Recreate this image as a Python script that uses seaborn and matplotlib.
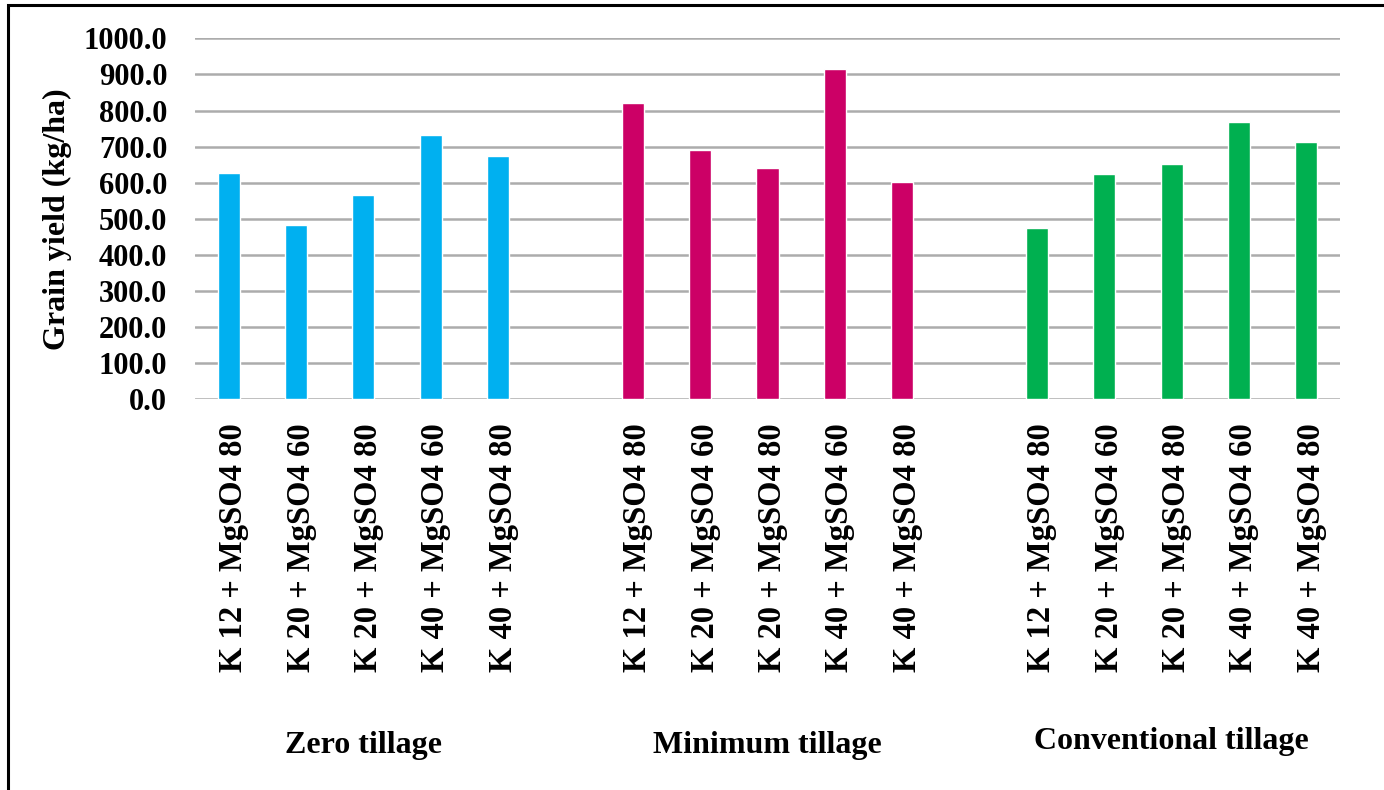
import matplotlib
matplotlib.use("Agg")
import matplotlib.pyplot as plt
import matplotlib.transforms as mtransforms
from matplotlib.patches import Rectangle
import numpy as np
import pandas as pd
import seaborn as sns

# ---- data -------------------------------------------------------------
tillages = ["Zero tillage", "Minimum tillage", "Conventional tillage"]
treatments = [
    "K 12 + MgSO4 80",
    "K 20 + MgSO4 60",
    "K 20 + MgSO4 80",
    "K 40 + MgSO4 60",
    "K 40 + MgSO4 80",
]
zero_tillage = [627.0, 483.0, 566.0, 732.0, 674.0]
minimum_tillage = [821.0, 691.0, 641.0, 915.0, 602.0]
conventional_tillage = [474.0, 624.0, 652.0, 768.0, 713.0]
colors = ["#00B0F0", "#CC0066", "#00B050"]
y_ticks = [0, 100, 200, 300, 400, 500, 600, 700, 800, 900, 1000]

# ---- table ------------------------------------------------------------
series = [zero_tillage, minimum_tillage, conventional_tillage]
rows = []
for till, vals in zip(tillages, series):
    for trt, v in zip(treatments, vals):
        rows.append({"tillage": till, "treatment": trt,
                     "key": f"{till} | {trt}", "yield": v})
df = pd.DataFrame(rows)

# category order with one empty slot between tillage groups
order = []
for i, till in enumerate(tillages):
    order += [f"{till} | {t}" for t in treatments]
    if i < len(tillages) - 1:
        order.append(f"spacer {i}")

# ---- figure -----------------------------------------------------------
sns.set_theme(style="white")
plt.rcParams["font.family"] = ["Liberation Serif", "DejaVu Serif"]
plt.rcParams["font.weight"] = "bold"
for key in ("text.color", "axes.labelcolor", "xtick.color", "ytick.color"):
    plt.rcParams[key] = "black"

fig = plt.figure(figsize=(13.84, 7.90), dpi=100)
ax = fig.add_axes([195 / 1384, 1 - 399.3 / 790, 1145 / 1384, 361 / 790])

sns.barplot(data=df, x="key", y="yield", hue="tillage", order=order,
            hue_order=tillages, palette=colors, dodge=False, width=0.33,
            saturation=1, legend=False, ax=ax, errorbar=None)

ax.set_ylim(0, 1000)
ax.set_xlim(-0.5, len(order) - 0.5)
ax.set_yticks(y_ticks)
ax.set_yticklabels([f"{v:.1f}" for v in y_ticks], fontsize=22,
                   fontweight="bold")
ax.yaxis.grid(True, color="#acacac", linewidth=1.8)
ax.set_axisbelow(True)
for s in ax.spines.values():
    s.set_visible(False)
ax.tick_params(axis="both", length=0)
ax.tick_params(axis="y", pad=20)
ax.tick_params(axis="x", pad=17)

# x tick labels: treatment names under each bar
pos = [order.index(k) for k in df["key"]]
ax.set_xticks(pos)
ax.set_xticklabels(df["treatment"], rotation=90, fontsize=23.5,
                   fontweight="bold")
shift = mtransforms.ScaledTranslation(0.05, 0, fig.dpi_scale_trans)
for lbl in ax.get_xticklabels():
    lbl.set_transform(lbl.get_transform() + shift)
ax.set_xlabel("")

ax.set_ylabel("Grain yield (kg/ha)", fontsize=23, fontweight="bold")
ax.yaxis.set_label_coords(-0.107, 0.5)

# group names beneath each block of bars
trans = mtransforms.blended_transform_factory(ax.transData, fig.transFigure)
group_y = [1 - 746 / 790, 1 - 745 / 790, 1 - 742 / 790]
for till, gy in zip(tillages, group_y):
    xs = [order.index(f"{till} | {t}") for t in treatments]
    ax.text(np.mean(xs), gy, till, transform=trans, ha="center", va="center",
            fontsize=23, fontweight="bold", clip_on=False)

# outer frame (left and top edges visible)
fig.patches.append(Rectangle((8 / 1384, -0.1), 1.2, 1 - 5 / 790 + 0.1,
                             transform=fig.transFigure, fill=False,
                             edgecolor="black", linewidth=2.2))

fig.savefig("out.png", dpi=100)
